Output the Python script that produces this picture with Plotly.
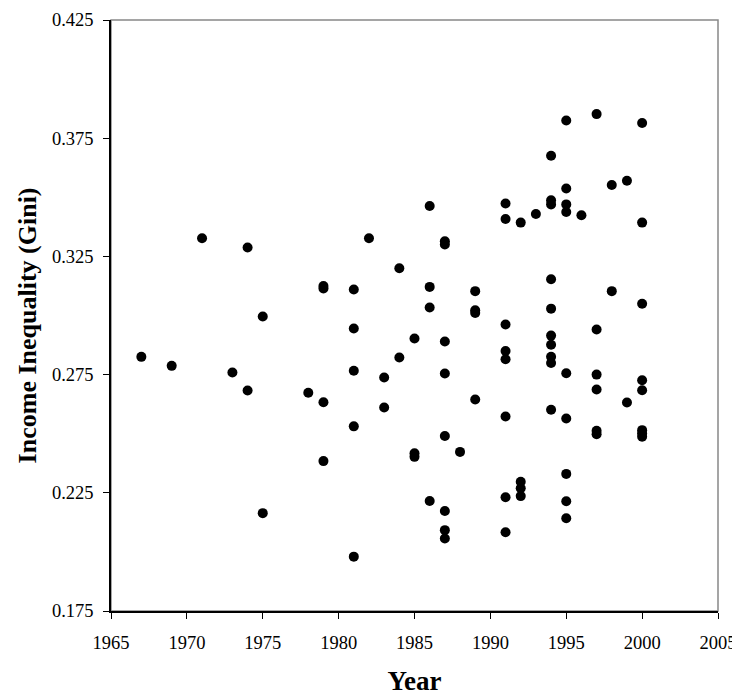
import plotly.graph_objects as go

# Year / Gini pairs
years = [1967, 1969, 1971, 1973, 1974, 1974, 1975, 1975, 1978,
         1979, 1979, 1979, 1979,
         1981, 1981, 1981, 1981, 1981,
         1982, 1983, 1983, 1984, 1984,
         1985, 1985, 1985,
         1986, 1986, 1986, 1986,
         1987, 1987, 1987, 1987, 1987, 1987, 1987, 1987,
         1988,
         1989, 1989, 1989, 1989,
         1991, 1991, 1991, 1991, 1991, 1991, 1991, 1991,
         1992, 1992, 1992, 1992,
         1993,
         1994, 1994, 1994, 1994, 1994, 1994, 1994, 1994, 1994, 1994,
         1995, 1995, 1995, 1995, 1995, 1995, 1995, 1995, 1995,
         1996,
         1997, 1997, 1997, 1997, 1997, 1997,
         1998, 1998,
         1999, 1999,
         2000, 2000, 2000, 2000, 2000, 2000, 2000, 2000]
gini = [0.2825, 0.2787, 0.3327, 0.2759, 0.3288, 0.2683, 0.2996, 0.2164, 0.2673,
        0.3125, 0.3114, 0.2633, 0.2384,
        0.3110, 0.2945, 0.2766, 0.2531, 0.1980,
        0.3327, 0.2738, 0.2611, 0.3200, 0.2822,
        0.2903, 0.2417, 0.2402,
        0.3463, 0.3121, 0.3034, 0.2215,
        0.3314, 0.3300, 0.2890, 0.2755, 0.2490, 0.2173, 0.2092, 0.2057,
        0.2423,
        0.3103, 0.3022, 0.3011, 0.2645,
        0.3474, 0.3408, 0.2962, 0.2850, 0.2815, 0.2573, 0.2231, 0.2083,
        0.3393, 0.2297, 0.2269, 0.2236,
        0.3429,
        0.3676, 0.3487, 0.3470, 0.3153, 0.3029, 0.2915, 0.2876, 0.2825, 0.2799, 0.2601,
        0.3825, 0.3537, 0.3470, 0.3438, 0.2756, 0.2564, 0.2330, 0.2214, 0.2142,
        0.3424,
        0.3852, 0.2941, 0.2750, 0.2687, 0.2512, 0.2498,
        0.3552, 0.3103,
        0.3570, 0.2632,
        0.3814, 0.3393, 0.3050, 0.2726, 0.2684, 0.2515, 0.2501, 0.2487]

x_ticks = [1965, 1970, 1975, 1980, 1985, 1990, 1995, 2000, 2005]
y_ticks = [0.175, 0.225, 0.275, 0.325, 0.375, 0.425]

font = "Liberation Serif, Times New Roman, serif"

fig = go.Figure()
fig.add_trace(go.Scatter(x=years, y=gini, mode="markers",
                         marker=dict(color="black", size=10),
                         showlegend=False, cliponaxis=False))

# gray frame on top/right, axis lines cover left/bottom in black
fig.add_shape(type="rect", xref="paper", yref="paper", x0=0, y0=0, x1=1, y1=1,
              line=dict(color="#888888", width=1.5), layer="below")

fig.update_xaxes(range=[1965, 2005], tickvals=x_ticks, ticks="outside", ticklen=6,
                 tickcolor="black", showline=True, linecolor="black", linewidth=1.5,
                 showgrid=False, zeroline=False, tickfont=dict(size=18.5, color="black"),
                 ticklabelstandoff=8, automargin=False,
                 title=dict(text="<b>Year</b>", font=dict(size=27, color="black"), standoff=27))
fig.update_yaxes(range=[0.175, 0.425], tickvals=y_ticks, tickformat=".3f", ticks="outside",
                 ticklen=6, tickcolor="black", showline=True, linecolor="black", linewidth=1.5,
                 showgrid=False, zeroline=False, tickfont=dict(size=18.5, color="black"),
                 ticklabelstandoff=6, automargin=False)

# y title as annotation, sits a bit below the plot centre like the original
fig.add_annotation(text="<b>Income Inequality (Gini)</b>", xref="paper", yref="paper",
                   x=-0.137, y=0.483, xanchor="center", yanchor="middle", textangle=-90,
                   showarrow=False, font=dict(size=26, color="black"))

# page body adds ~8px offset, so the figure is drawn 8px smaller
fig.update_layout(width=732, height=688, plot_bgcolor="white", paper_bgcolor="white",
                  font=dict(family=font, color="black"),
                  margin=dict(l=103, r=22, t=12, b=85))

fig.write_html("out.html")
